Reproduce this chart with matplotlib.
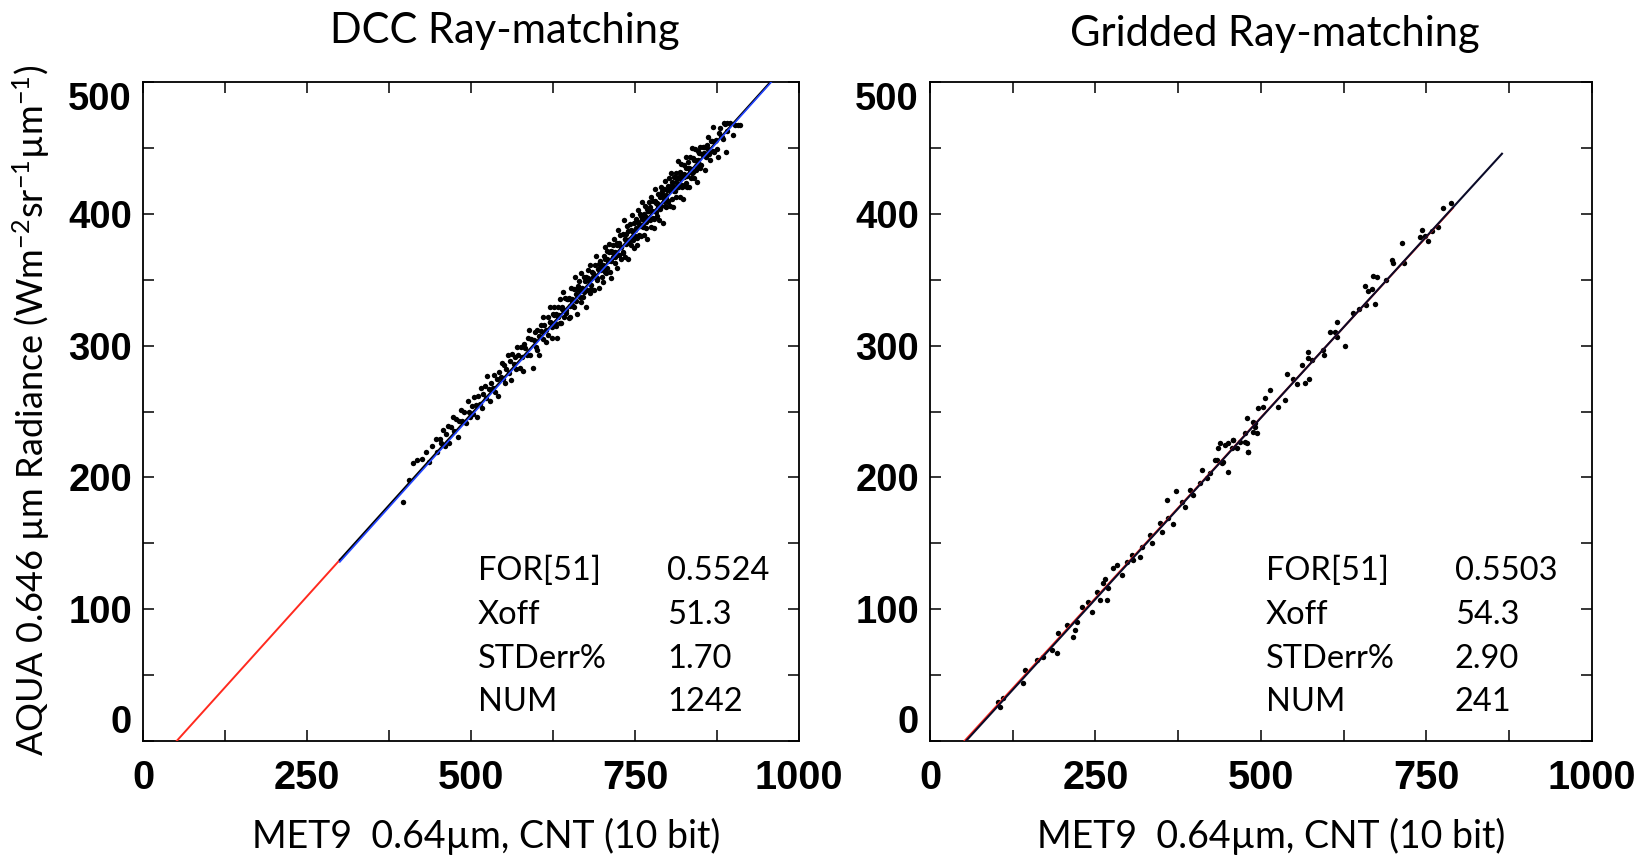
import matplotlib
matplotlib.use("Agg")
import matplotlib.pyplot as plt
from matplotlib import font_manager

# ---- data ----
# DCC ray-matching: fit results and scatter
dcc_gain = 0.5524
dcc_xoff = 51.3
dcc_stats = [("FOR[51]", "0.5524"), ("Xoff", "51.3"), ("STDerr%", "1.70"), ("NUM", "1242")]
dcc_red_x = [51.3, 300]          # extrapolated part of the fit
dcc_fit_x = [300, 956.4]         # fitted range (black)
dcc_blue_gain, dcc_blue_xoff = 0.5535, 54.5
dcc_blue_x = [300, 958]

dcc_x = [397, 405, 412, 418, 425, 431, 436, 441, 446, 448,
         452, 455, 457, 460, 462, 465, 467, 470, 472, 474, 477, 480, 482, 485, 487, 490, 492, 495, 497, 499,
         501, 503, 505, 507, 509, 511, 513, 515, 517, 519, 521, 523, 525, 527, 529, 531, 533, 535, 537, 539,
         541, 543, 545, 547, 549,
         551, 552, 554, 556, 558, 559, 561, 563, 565, 567, 568, 570, 572, 574, 576, 577, 579, 581, 583, 585,
         587, 588, 590, 592, 594, 596, 598, 599,
         600, 601, 603, 604, 606, 607, 609, 610, 612, 614, 615, 617, 618, 620, 621, 623, 625, 626, 628, 629,
         631, 632, 634, 636, 637, 639, 640, 642, 644, 645, 647, 649,
         650, 651, 653, 654, 655, 657, 658, 660, 661, 662, 664, 665, 667, 668, 669, 671, 672, 674, 675, 676,
         678, 679, 681, 682, 683, 685, 686, 688, 689, 690, 692, 693, 695, 696, 698, 699,
         700, 701, 702, 703, 704, 705, 706, 707, 708, 709, 711, 712, 713, 714, 715, 716, 717, 718, 719, 720,
         722, 723, 724, 725, 726, 727, 728, 729, 731, 732, 733, 734, 735, 736, 737, 738, 739, 740, 742, 743,
         744, 745, 746, 747, 748, 749,
         750, 751, 752, 753, 754, 755, 756, 757, 758, 759, 760, 761, 762, 763, 764, 765, 766, 767, 768, 769,
         770, 771, 772, 773, 774, 775, 776, 777, 778, 779, 780, 781, 782, 783, 784, 785, 786, 787, 788, 789,
         790, 791, 792, 793, 794, 795, 796, 797, 798, 799,
         800, 801, 802, 803, 804, 805, 806, 807, 808, 809, 810, 811, 812, 813, 814, 815, 816, 817, 818, 819,
         820, 821, 822, 823, 824, 825, 826, 827, 828, 829, 830, 831, 832, 833, 834, 835, 836, 837, 838, 839,
         840, 841, 842, 843, 844, 845, 846, 847, 848, 849,
         851, 853, 855, 857, 859, 861, 863, 865, 867, 869, 871, 874, 877, 880, 883, 885, 888, 891, 895, 899,
         903, 907, 910]
dcc_y = [181, 198, 211, 213, 214, 219, 212, 224, 229, 219,
         229, 226, 236, 224, 233, 239, 226, 238, 246, 235, 244, 231, 243, 251, 243, 250, 241, 258, 250, 246,
         254, 248, 261, 255, 246, 262, 256, 268, 253, 263, 269, 260, 277, 267, 258, 272, 268, 278, 265, 275,
         262, 280, 276, 287, 275,
         285, 272, 282, 293, 279, 288, 274, 294, 286, 291, 282, 299, 293, 283, 299, 291, 281, 301, 298, 293,
         306, 312, 293, 305, 283, 304, 310, 299,
         297, 312, 307, 293, 316, 311, 305, 322, 316, 303, 312, 322, 308, 329, 318, 306, 324, 329, 317, 324,
         306, 329, 323, 335, 317, 329, 341, 322, 336, 327, 335, 321,
         336, 322, 344, 334, 330, 343, 352, 334, 343, 324, 342, 349, 333, 355, 343, 337, 352, 343, 352, 329,
         357, 351, 340, 361, 346, 356, 352, 342, 361, 368, 350, 358, 344, 364, 359, 352,
         361, 348, 368, 358, 375, 366, 355, 372, 359, 364, 377, 356, 372, 351, 371, 376, 367, 381, 363, 371,
         378, 359, 388, 369, 378, 384, 366, 375, 371, 385, 395, 367, 381, 385, 377, 391, 366, 387, 381, 392,
         376, 387, 399, 380, 393, 374,
         383, 396, 389, 376, 394, 403, 384, 391, 400, 383, 396, 409, 391, 400, 384, 406, 398, 389, 404, 381,
         402, 409, 397, 405, 390, 413, 402, 397, 410, 389, 410, 419, 401, 408, 398, 415, 407, 395, 413, 420,
         406, 417, 393, 413, 419, 406, 425, 412, 405, 418,
         421, 410, 427, 406, 418, 431, 411, 422, 405, 428, 420, 417, 431, 413, 427, 440, 420, 427, 413, 432,
         438, 420, 428, 411, 437, 430, 421, 435, 443, 429, 420, 439, 435, 420, 443, 434, 427, 450, 432, 442,
         427, 441, 449, 433, 440, 424, 448, 446, 438, 451,
         437, 451, 446, 433, 452, 458, 445, 441, 455, 466, 447, 456, 443, 465, 458, 469, 447, 469, 469, 460,
         467, 467, 467]

# the dense core of the DCC cloud, close to the fit line
dcc_core_x = [620.5, 623.5, 626.5, 629.5, 632.5, 635.5, 638.5, 641.5, 644.5, 647.5,
              650.5, 653.5, 656.5, 659.5, 662.5, 665.5, 668.5, 671.5, 674.5, 677.5,
              680.5, 683.5, 686.5, 689.5, 692.5, 695.5, 698.5, 701.5, 704.5, 707.5,
              710.5, 713.5, 716.5, 719.5, 722.5, 725.5, 728.5, 731.5, 734.5, 737.5,
              740.5, 743.5, 746.5, 749.5, 752.5, 755.5, 758.5, 761.5, 764.5, 767.5,
              770.5, 773.5, 776.5, 779.5, 782.5, 785.5, 788.5, 791.5, 794.5, 797.5,
              800.5, 803.5, 806.5, 809.5, 812.5, 815.5, 818.5, 821.5, 824.5, 827.5,
              830.5, 833.5, 836.5, 839.5, 842.5, 845.5, 848.5, 851.5, 854.5, 857.5,
              860.5, 863.5, 866.5, 869.5, 872.5, 875.5, 878.5, 881.5, 884.5, 887.5, 890.5]
dcc_core_y = [318, 314, 323, 315, 322, 317, 328, 326, 325, 335,
              330, 335, 329, 339, 345, 337, 344, 341, 349, 342,
              349, 343, 355, 353, 351, 362, 357, 361, 356, 366,
              371, 364, 371, 367, 376, 369, 375, 370, 381, 379,
              378, 388, 383, 388, 382, 392, 398, 390, 397, 394,
              402, 395, 402, 396, 408, 406, 404, 415, 410, 414,
              409, 419, 424, 417, 424, 420, 429, 422, 428, 423,
              435, 432, 431, 441, 436, 441, 435, 445, 451, 443,
              450, 447, 455, 448, 455, 449, 461, 459, 457, 468, 463]

# Gridded ray-matching: fit results and scatter
grd_gain = 0.5503
grd_xoff = 54.3
grd_stats = [("FOR[51]", "0.5503"), ("Xoff", "54.3"), ("STDerr%", "2.90"), ("NUM", "241")]
grd_fit_x = [54.3, 864]
grd_red_gain, grd_red_xoff = 0.548, 52.0
grd_red_x = [52.0, 790]

grd_x = [105.7, 110.7, 103.2, 143.5, 141.0, 161.1, 171.2, 183.8, 191.3, 193.8,
         206.4, 216.5, 219.0, 221.5, 229.0, 239.2, 244.2, 251.8, 256.8, 261.9,
         264.4, 266.9, 269.4, 277.0, 282.0, 289.6, 297.1, 304.7, 307.2, 317.2,
         319.8, 332.3, 334.8, 347.4, 349.9, 357.5, 360.0, 367.5, 371.6, 380.1,
         385.1, 392.7, 397.7, 407.7, 410.3, 417.8, 422.9, 432.9, 435.5, 440.5,
         445.5, 450.6, 458.2, 463.2, 475.8, 480.8, 488.4, 490.9,
         438.1, 450.6, 458.2, 468.3, 478.4, 480.9, 455.7, 443.1, 430.5, 475.8,
         478.4, 488.4, 493.5, 491.0,
         495.9, 503.5, 513.6, 506.0, 526.2, 536.3, 538.8, 548.9, 553.9, 566.5,
         573.1, 561.5, 571.5, 571.5, 576.6, 594.2, 595.3, 614.4, 604.3, 611.9,
         614.4, 627.0, 639.6, 648.6, 657.1, 662.2, 669.7, 675.8, 667.2, 658.6,
         672.2, 688.8, 698.4, 699.9, 713.5, 716.5, 740.3, 742.7, 747.9, 752.9,
         757.9, 768.0, 775.5, 787.1]
grd_y = [26.0, 32.4, 29.8, 53.9, 43.8, 61.5, 64.0, 69.0, 66.9, 81.7,
         88.0, 79.2, 84.2, 90.5, 101.9, 105.7, 98.1, 113.3, 107.0, 119.6,
         122.7, 107.0, 115.8, 131.0, 133.6, 126.0, 136.0, 141.1, 137.4, 139.9,
         147.4, 156.3, 150.0, 165.2, 158.9, 182.9, 169.0, 164.4, 189.9, 181.6,
         177.8, 190.4, 186.6, 195.5, 205.6, 199.3, 203.1, 213.2, 222.1, 210.7,
         224.6, 204.3, 228.4, 222.1, 227.1, 219.5, 234.6, 241.0,
         225.9, 225.9, 228.4, 227.1, 225.9, 219.5, 222.1, 211.9, 213.2, 233.5,
         244.8, 242.3, 233.5, 238.5,
         252.4, 253.7, 266.3, 260.0, 253.7, 258.8, 278.5, 275.0, 270.7, 271.8,
         275.0, 285.3, 295.4, 290.3, 289.0, 296.7, 292.9, 318.2, 310.6, 310.6,
         306.8, 299.7, 325.0, 327.5, 345.2, 341.7, 352.8, 352.3, 342.7, 330.8,
         331.5, 349.8, 365.0, 362.5, 378.1, 362.5, 382.6, 387.7, 383.1, 379.5,
         387.2, 389.7, 404.2, 408.0]

panel_titles = ["DCC Ray-matching", "Gridded Ray-matching"]
x_label = "MET9  0.64µm, CNT (10 bit)"
y_label = "AQUA 0.646 µm Radiance (Wm$^{-2}$sr$^{-1}$µm$^{-1}$)"
x_major = [0, 250, 500, 750, 1000]
x_minor = [125, 375, 625, 875]
y_major = [0, 100, 200, 300, 400, 500]
y_minor = [50, 150, 250, 350, 450]


def have_font(name):
    try:
        font_manager.findfont(name, fallback_to_default=False)
        return True
    except Exception:
        return False


TXT = "Lato" if have_font("Lato") else "DejaVu Sans"
NUMF = "Liberation Sans" if have_font("Liberation Sans") else "DejaVu Sans"

plt.rcParams["mathtext.fontset"] = "custom"
plt.rcParams["mathtext.rm"] = TXT
plt.rcParams["mathtext.it"] = TXT
plt.rcParams["mathtext.bf"] = TXT

W, H = 1640, 857
fig = plt.figure(figsize=(W / 100, H / 100), dpi=100)


def fx(px):
    return px / W


def fy(py):
    return 1 - py / H


def fit_line(xs, gain, xoff):
    return [gain * (x - xoff) for x in xs]


def style_axes(ax):
    ax.set_xlim(0, 1000)
    ax.set_ylim(0, 500)
    ax.set_xticks(x_major)
    ax.set_xticks(x_minor, minor=True)
    ax.set_yticks(y_major)
    ax.set_yticks(y_minor, minor=True)
    ax.tick_params(which="both", direction="in", top=True, right=True,
                   length=8, width=1.1, color="black")
    ax.tick_params(axis="y", which="major", pad=8)
    ax.tick_params(axis="x", which="major", pad=13)
    for lab in ax.get_yticklabels():
        lab.set_fontfamily(NUMF)
        lab.set_fontsize(27.5)
        lab.set_fontweight("bold")
    for lab in ax.get_xticklabels():
        lab.set_fontfamily(NUMF)
        lab.set_fontsize(28.5)
        lab.set_fontweight("bold")
    ylabs = ax.get_yticklabels()
    ylabs[0].set_verticalalignment("bottom")
    ylabs[-1].set_verticalalignment("top")
    for sp in ax.spines.values():
        sp.set_linewidth(1.3)


ax_l = fig.add_axes([fx(143), fy(741), (799 - 143) / W, (741 - 82) / H])
ax_r = fig.add_axes([fx(930), fy(741), (1592 - 930) / W, (741 - 82) / H])

# left panel
ax_l.plot(dcc_x, dcc_y, "o", color="black", ms=3.9, mew=0, zorder=2)
ax_l.plot(dcc_core_x, dcc_core_y, "o", color="black", ms=3.9, mew=0, zorder=2)
ax_l.plot(dcc_red_x, fit_line(dcc_red_x, dcc_gain, dcc_xoff), color="#ff2a1f", lw=1.4, zorder=3)
ax_l.plot(dcc_fit_x, fit_line(dcc_fit_x, dcc_gain, dcc_xoff), color="black", lw=1.5, zorder=3)
ax_l.plot(dcc_blue_x, fit_line(dcc_blue_x, dcc_blue_gain, dcc_blue_xoff), color="#2345ff", lw=1.2, zorder=4)
style_axes(ax_l)

# right panel
ax_r.plot(grd_x, grd_y, "o", color="black", ms=3.9, mew=0, zorder=2)
ax_r.plot(grd_red_x, fit_line(grd_red_x, grd_red_gain, grd_red_xoff), color="#ff2a1f", lw=1.4, zorder=3)
ax_r.plot(grd_fit_x, fit_line(grd_fit_x, grd_gain, grd_xoff), color="#0a0a28", lw=1.5, zorder=4)
style_axes(ax_r)

# titles and axis labels
fig.text(fx(505), fy(31), panel_titles[0], ha="center", va="center", fontsize=30, family=TXT)
fig.text(fx(1275), fy(34), panel_titles[1], ha="center", va="center", fontsize=30, family=TXT)
fig.text(fx(486), fy(836), x_label, ha="center", va="center", fontsize=27, family=TXT)
fig.text(fx(1271), fy(836), x_label, ha="center", va="center", fontsize=27, family=TXT)
fig.text(fx(31), fy(410), y_label, ha="center", va="center", rotation=90, fontsize=26, family=TXT)

# statistics blocks
rows_y = [571, 615, 659, 702]
for (lab_x, val_x, stats) in [(478, 667, dcc_stats), (1266, 1455, grd_stats)]:
    for (name, val), ry in zip(stats, rows_y):
        fig.text(fx(lab_x), fy(ry), name, ha="left", va="center", fontsize=23.5, family=TXT)
        fig.text(fx(val_x), fy(ry), val, ha="left", va="center", fontsize=23.5, family=TXT)

fig.savefig("out.png", dpi=100, facecolor="white")
